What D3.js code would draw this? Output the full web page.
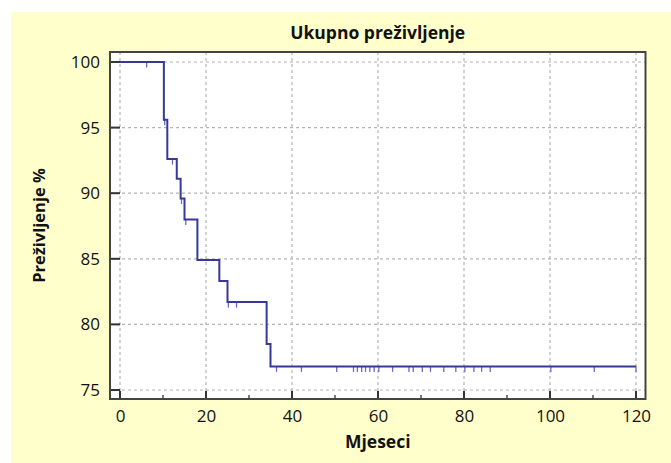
<!DOCTYPE html>
<html><head><meta charset="utf-8">
<script src="https://cdn.jsdelivr.net/npm/d3@7"></script>
<style>body{margin:0;background:#fff}svg{display:block}</style>
</head><body>
<svg id="c" width="671" height="463"></svg>
<script>
// Kaplan-Meier step data (time in months, survival %)
const stepTimes = [0, 10.2, 11.0, 13.2, 14.1, 15.0, 18.0, 23.1, 25.0, 34.1, 35.0];
const stepSurv  = [100, 95.6, 92.6, 91.1, 89.6, 88.0, 84.9, 83.3, 81.7, 78.5, 76.8];
const endTime = 120;
// censored observations (months)
const censorTimes = [6.2, 10.4, 12.2, 14.3, 15.3, 25.2, 27.1, 36.4, 42.2, 50.4, 54.3, 55.2, 56.2, 57.1, 58.1, 59.1, 60.2, 63.4, 67.2, 68.2, 70.3, 72.2, 75.3, 78.1, 80.2, 82.3, 84.1, 86.1, 100.2, 110.3, 120];
const xTicks = [0, 20, 40, 60, 80, 100, 120];
const xMinor = [10, 30, 50, 70, 90, 110];
const yTicks = [75, 80, 85, 90, 95, 100];
const title = "Ukupno preživljenje";
const xLabel = "Mjeseci";
const yLabel = "Preživljenje %";

const svg = d3.select("#c");
const font = "'Open Sans', sans-serif";
const L = 110, R = 645.5, T = 52, B = 399;
const x = d3.scaleLinear().domain([-2.326, 122.21]).range([L, R]);
const y = d3.scaleLinear().domain([74.314, 100.762]).range([B, T]);

svg.append("rect").attr("x", 11).attr("y", 12).attr("width", 660).attr("height", 451).attr("fill", "#ffffcc");
svg.append("rect").attr("x", L).attr("y", T).attr("width", R - L).attr("height", B - T).attr("fill", "#fff");

// grid
const g = svg.append("g");
g.selectAll(".gx").data(xTicks).join("line")
  .attr("x1", d => x(d)).attr("x2", d => x(d)).attr("y1", T).attr("y2", B)
  .attr("stroke", "#b4b4b4").attr("stroke-width", 1.2).attr("stroke-dasharray", "3,3");
g.selectAll(".gy").data(yTicks).join("line")
  .attr("y1", d => y(d)).attr("y2", d => y(d)).attr("x1", L).attr("x2", R)
  .attr("stroke", "#b4b4b4").attr("stroke-width", 1.2).attr("stroke-dasharray", "3,3");

// censor marks
const survAt = d => { let s = stepSurv[0]; stepTimes.forEach((t, i) => { if (t <= d) s = stepSurv[i]; }); return s; };
svg.selectAll(".cen").data(censorTimes).join("line")
  .attr("x1", d => x(d)).attr("x2", d => x(d))
  .attr("y1", d => y(survAt(d)))
  .attr("y2", d => y(survAt(d)) + 5.5)
  .attr("stroke", "#6b6bc4").attr("stroke-width", 1.3);

// KM line
const pts = stepTimes.map((t, i) => [t, stepSurv[i]]);
pts.push([endTime, stepSurv[stepSurv.length - 1]]);
svg.append("path").datum(pts)
  .attr("d", d3.line().x(d => x(d[0])).y(d => y(d[1])).curve(d3.curveStepAfter))
  .attr("fill", "none").attr("stroke", "#36389a").attr("stroke-width", 2);

// axes
const xAxis = d3.axisBottom(x).tickValues(xTicks).tickSize(0).tickPadding(11);
const xa = svg.append("g").attr("transform", `translate(0,${B})`).call(xAxis);
xa.select(".domain").remove();
xa.selectAll("text").attr("font-family", font).attr("font-size", 17).attr("fill", "#111");
const yAxis = d3.axisLeft(y).tickValues(yTicks).tickSize(0).tickPadding(10);
const ya = svg.append("g").attr("transform", `translate(${L},0)`).call(yAxis);
ya.select(".domain").remove();
ya.selectAll("text").attr("font-family", font).attr("font-size", 17).attr("fill", "#111");

// inward ticks
svg.selectAll(".tx").data(xTicks).join("line")
  .attr("x1", d => x(d)).attr("x2", d => x(d)).attr("y1", B).attr("y2", B - 8)
  .attr("stroke", "#333").attr("stroke-width", 2);
svg.selectAll(".tm").data(xMinor).join("line")
  .attr("x1", d => x(d)).attr("x2", d => x(d)).attr("y1", B).attr("y2", B - 4)
  .attr("stroke", "#333").attr("stroke-width", 1.3);
svg.selectAll(".ty").data(yTicks).join("line")
  .attr("y1", d => y(d)).attr("y2", d => y(d)).attr("x1", L).attr("x2", L + 10)
  .attr("stroke", "#333").attr("stroke-width", 2);

// frame
svg.append("rect").attr("x", L).attr("y", T).attr("width", R - L).attr("height", B - T)
  .attr("fill", "none").attr("stroke", "#444").attr("stroke-width", 2);

// texts
svg.append("text").attr("x", (L + R) / 2).attr("y", 39).attr("text-anchor", "middle")
  .attr("font-family", font).attr("font-weight", "bold").attr("font-size", 17.5).attr("fill", "#111").text(title);
svg.append("text").attr("x", (L + R) / 2).attr("y", 448).attr("text-anchor", "middle")
  .attr("font-family", font).attr("font-weight", "bold").attr("font-size", 17.5).attr("fill", "#111").text(xLabel);
svg.append("text").attr("transform", `translate(45,${(T + B) / 2}) rotate(-90)`).attr("text-anchor", "middle")
  .attr("font-family", font).attr("font-weight", "bold").attr("font-size", 16.5).attr("fill", "#111").text(yLabel);
</script>
</body></html>
